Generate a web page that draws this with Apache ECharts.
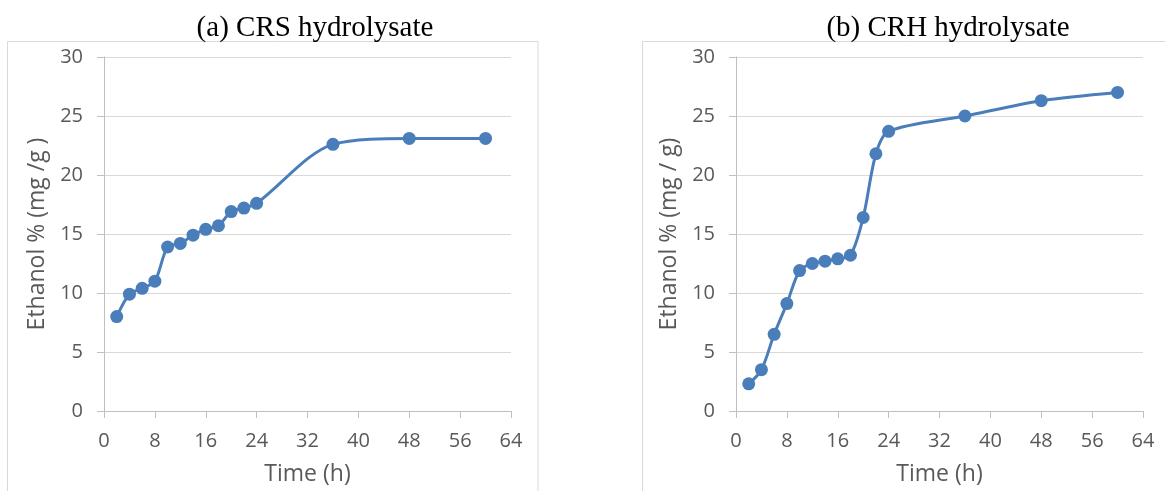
<!DOCTYPE html>
<html>
<head>
<meta charset="utf-8">
<script src="https://cdn.jsdelivr.net/npm/echarts@6/dist/echarts.min.js"></script>
<style>
html,body{margin:0;padding:0;background:#fff;}
#chart{width:1165px;height:491px;}
</style>
</head>
<body>
<div id="chart"></div>
<script>
const hours = [2, 4, 6, 8, 10, 12, 14, 16, 18, 20, 22, 24, 36, 48, 60];
const crsEthanol = [8.0, 9.9, 10.4, 11.0, 13.9, 14.2, 14.9, 15.4, 15.7, 16.9, 17.2, 17.6, 22.6, 23.1, 23.1];
const crhEthanol = [2.3, 3.5, 6.5, 9.1, 11.9, 12.5, 12.7, 12.9, 13.2, 16.4, 21.8, 23.7, 25.0, 26.3, 27.0];
const titles = ['(a) CRS hydrolysate', '(b) CRH hydrolysate'];
const yNames = ['Ethanol % (mg /g )', 'Ethanol % (mg / g)'];
const xName = 'Time (h)';

const BLUE = '#4A7EBB';
const LABEL = '#595959';
const AXIS = '#bfbfbf';
const GRID = '#d9d9d9';
const SANS = '"Open Sans", sans-serif';

function xAxis(i) {
  return {
    type: 'value', gridIndex: i, min: 0, max: 64, interval: 8,
    name: xName, nameLocation: 'middle', nameGap: 52,
    nameTextStyle: { color: LABEL, fontFamily: SANS, fontSize: 23 },
    axisLine: { show: true, lineStyle: { color: AXIS, width: 1 } },
    axisTick: { show: true, length: 7, lineStyle: { color: AXIS } },
    axisLabel: { color: LABEL, fontFamily: SANS, fontSize: 20, margin: 20 },
    splitLine: { show: false }
  };
}
function yAxis(i) {
  return {
    type: 'value', gridIndex: i, min: 0, max: 30, interval: 5,
    name: yNames[i], nameLocation: 'middle', nameGap: 55,
    nameTextStyle: { color: LABEL, fontFamily: SANS, fontSize: 23 },
    axisLine: { show: true, lineStyle: { color: AXIS, width: 1 } },
    axisTick: { show: true, length: 7, lineStyle: { color: AXIS } },
    axisLabel: { color: LABEL, fontFamily: SANS, fontSize: 20, margin: 21 },
    splitLine: { show: true, lineStyle: { color: GRID, width: 1 } }
  };
}
function series(i, vals) {
  return {
    type: 'line', xAxisIndex: i, yAxisIndex: i,
    data: hours.map((h, k) => [h, vals[k]]),
    smooth: 0.3,
    symbol: 'circle', symbolSize: 13,
    lineStyle: { color: BLUE, width: 3 },
    itemStyle: { color: BLUE },
    silent: true, animation: false
  };
}

const chart = echarts.init(document.getElementById('chart'), null, { renderer: 'canvas' });
chart.setOption({
  backgroundColor: '#fff',
  animation: false,
  title: [
    { text: titles[0], left: 310, top: 9, textAlign: 'center',
      textStyle: { fontFamily: '"Liberation Serif", serif', fontWeight: 'normal', fontSize: 29, color: '#000' } },
    { text: titles[1], left: 943, top: 9, textAlign: 'center',
      textStyle: { fontFamily: '"Liberation Serif", serif', fontWeight: 'normal', fontSize: 29, color: '#000' } }
  ],
  graphic: [
    { type: 'rect', shape: { x: 7.5, y: 41.5, width: 530.5, height: 470 }, style: { fill: 'none', stroke: GRID, lineWidth: 1 }, silent: true, z: -1 },
    { type: 'rect', shape: { x: 642.5, y: 41.5, width: 540, height: 470 }, style: { fill: 'none', stroke: GRID, lineWidth: 1 }, silent: true, z: -1 }
  ],
  grid: [
    { left: 104, right: 654, top: 57, bottom: 77 },
    { left: 736, right: 22, top: 57, bottom: 77 }
  ],
  xAxis: [xAxis(0), xAxis(1)],
  yAxis: [yAxis(0), yAxis(1)],
  series: [series(0, crsEthanol), series(1, crhEthanol)]
});
</script>
</body>
</html>
